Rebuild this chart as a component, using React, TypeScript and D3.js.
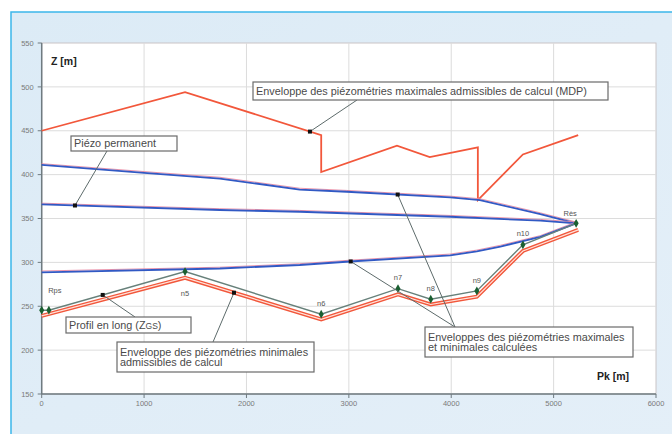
import React, { useEffect, useRef } from 'react';
import * as d3 from 'd3';

const WIDTH = 672;
const HEIGHT = 434;

// --- Data (Pk [m], Z [m]) ---
const nodeLabels = ['', 'Rps', 'n5', 'n6', 'n7', 'n8', 'n9', 'n10', 'Rès'];
const profilePk = [0, 70, 1400, 2730, 3480, 3800, 4250, 4700, 5220];
const profileZ = [245.5, 245.5, 289.5, 241, 270, 258, 267.5, 320, 344.5];

const mdpPk = [0, 1400, 2730, 2730, 3470, 3790, 4260, 4260, 4700, 5240];
const mdpZ = [450, 494, 445, 403, 433, 420, 431, 371, 423, 445];

const minAdmPk = [0, 1400, 2730, 3480, 3800, 4250, 4700, 5240];
const minAdmZ = [239, 282.5, 235, 263.5, 252, 261, 313, 337];

const maxCalcPk = [0, 1000, 1740, 2520, 2980, 3990, 4280, 4870, 5220];
const maxCalcZ = [411, 402, 395.5, 383, 380.5, 374, 371, 355, 344.5];

const permPk = [0, 1740, 2520, 3990, 4870, 5220];
const permZ = [366, 359.7, 357.7, 352, 347.5, 344.5];

const minCalcPk = [0, 1740, 2520, 3010, 3990, 4250, 4480, 4870, 5220];
const minCalcZ = [288.7, 293, 297, 301, 308, 312.5, 318, 329, 344.5];

const xTicks = [0, 1000, 2000, 3000, 4000, 5000, 6000];
const yTicks = [150, 200, 250, 300, 350, 400, 450, 500, 550];

// label offsets in px, per node
const labelOffsets: Record<string, [number, number]> = {
    Rps: [6, -20],
    n5: [0, 22],
    'Rès': [-6, -10],
};

type Pt = [number, number];
const zip = (pk: number[], z: number[]): Pt[] => pk.map((p, i) => [p, z[i]]);

// linear interpolation along a polyline (first match)
const zAt = (pts: Pt[], pk: number) => {
    for (let i = 1; i < pts.length; i++) {
        const [x0, y0] = pts[i - 1];
        const [x1, y1] = pts[i];
        if (pk >= x0 && pk <= x1 && x1 !== x0) return y0 + (y1 - y0) * (pk - x0) / (x1 - x0);
    }
    return pts[pts.length - 1][1];
};

const FONT = '"Liberation Sans", Arial, sans-serif';

const drawChart = (svgEl: SVGSVGElement) => {
    const svg = d3.select(svgEl);
    svg.selectAll('*').remove();

    const plot = { left: 41.7, right: 656, top: 43, bottom: 394 };

    const x = d3.scaleLinear().domain([0, 6000]).range([plot.left, plot.right]);
    const y = d3.scaleLinear().domain([150, 550]).range([plot.bottom, plot.top]);

    // --- Background frame ---
    const defs = svg.append('defs');
    const grad = defs.append('linearGradient')
        .attr('id', 'bg')
        .attr('x1', 0).attr('y1', 0).attr('x2', 1).attr('y2', 1);
    grad.append('stop').attr('offset', '0%').attr('stop-color', '#dcebf6');
    grad.append('stop').attr('offset', '100%').attr('stop-color', '#e4eff8');

    svg.append('rect').attr('width', WIDTH).attr('height', HEIGHT).attr('fill', '#ffffff');
    svg.append('rect')
        .attr('x', 11).attr('y', 12)
        .attr('width', WIDTH).attr('height', HEIGHT)
        .attr('fill', 'url(#bg)')
        .attr('stroke', '#3bb6ea')
        .attr('stroke-width', 1.5);

    svg.append('rect')
        .attr('x', plot.left).attr('y', plot.top)
        .attr('width', plot.right - plot.left).attr('height', plot.bottom - plot.top)
        .attr('fill', '#ffffff')
        .attr('stroke', '#c9c4c6')
        .attr('stroke-width', 1);

    // --- Grid ---
    const grid = svg.append('g').attr('stroke', '#dcdcdc').attr('stroke-width', 1);
    xTicks.slice(1, -1).forEach(t => {
        grid.append('line').attr('x1', x(t)).attr('x2', x(t)).attr('y1', plot.top).attr('y2', plot.bottom);
    });
    yTicks.slice(1, -1).forEach(t => {
        grid.append('line').attr('x1', plot.left).attr('x2', plot.right).attr('y1', y(t)).attr('y2', y(t));
    });

    // --- Axes ---
    const axisColor = '#6f7b80';
    svg.append('line')
        .attr('x1', plot.left).attr('x2', plot.left).attr('y1', plot.top).attr('y2', plot.bottom)
        .attr('stroke', axisColor).attr('stroke-width', 1.5);
    svg.append('line')
        .attr('x1', plot.left).attr('x2', plot.right).attr('y1', plot.bottom).attr('y2', plot.bottom)
        .attr('stroke', axisColor).attr('stroke-width', 1.5);

    yTicks.forEach(t => {
        svg.append('line')
            .attr('x1', plot.left - 4).attr('x2', plot.left).attr('y1', y(t)).attr('y2', y(t))
            .attr('stroke', axisColor);
        svg.append('text')
            .attr('x', plot.left - 8).attr('y', y(t)).attr('dy', '0.35em')
            .attr('text-anchor', 'end')
            .style('font-family', FONT).style('font-size', '7.5px').style('fill', '#7a7a7a')
            .text(t);
    });
    xTicks.forEach(t => {
        svg.append('line')
            .attr('x1', x(t)).attr('x2', x(t)).attr('y1', plot.bottom).attr('y2', plot.bottom + 4)
            .attr('stroke', axisColor);
        svg.append('text')
            .attr('x', x(t)).attr('y', plot.bottom + 9).attr('dy', '0.35em')
            .attr('text-anchor', 'middle')
            .style('font-family', FONT).style('font-size', '7.5px').style('fill', '#7a7a7a')
            .text(t);
    });

    svg.append('text')
        .attr('x', 51).attr('y', 65)
        .style('font-family', FONT).style('font-size', '10.5px').style('font-weight', 'bold').style('fill', '#222')
        .text('Z [m]');
    svg.append('text')
        .attr('x', 597).attr('y', 380)
        .style('font-family', FONT).style('font-size', '10.5px').style('font-weight', 'bold').style('fill', '#222')
        .text('Pk [m]');

    // --- Series ---
    const line = d3.line<Pt>().x(d => x(d[0])).y(d => y(d[1]));

    const mdp = zip(mdpPk, mdpZ);
    const minAdm = zip(minAdmPk, minAdmZ);
    const maxCalc = zip(maxCalcPk, maxCalcZ);
    const perm = zip(permPk, permZ);
    const minCalc = zip(minCalcPk, minCalcZ);
    const profile = zip(profilePk, profileZ);

    const red = '#f2573b';
    const blue = '#3159c4';

    // upper admissible envelope
    svg.append('path').attr('d', line(mdp)).attr('fill', 'none')
        .attr('stroke', red).attr('stroke-width', 1.8).attr('stroke-linejoin', 'miter');

    // lower admissible envelope (double red)
    svg.append('path').attr('d', line(minAdm)).attr('fill', 'none')
        .attr('stroke', red).attr('stroke-width', 4);
    svg.append('path').attr('d', line(minAdm)).attr('fill', 'none')
        .attr('stroke', '#ffe2da').attr('stroke-width', 1.2);

    // blue calc / permanent lines with their pink fringe
    [maxCalc, perm, minCalc].forEach(pts => {
        svg.append('path').attr('d', line(pts)).attr('fill', 'none')
            .attr('transform', 'translate(0,-1.3)')
            .attr('stroke', '#e98aa3').attr('stroke-width', 0.9);
        svg.append('path').attr('d', line(pts)).attr('fill', 'none')
            .attr('stroke', blue).attr('stroke-width', 1.8);
    });

    // long profile
    svg.append('path').attr('d', line(profile)).attr('fill', 'none')
        .attr('stroke', '#67807a').attr('stroke-width', 1.4);
    svg.selectAll('.node')
        .data(profile)
        .enter()
        .append('path')
        .attr('transform', d => `translate(${x(d[0])},${y(d[1])})`)
        .attr('d', d3.symbol().type(d3.symbolDiamond).size(22)())
        .attr('fill', '#1a5f31');

    profile.forEach((d, i) => {
        const name = nodeLabels[i];
        if (!name) return;
        const [dx, dy] = labelOffsets[name] || [0, -11];
        svg.append('text')
            .attr('x', x(d[0]) + dx).attr('y', y(d[1]) + dy).attr('dy', '0.35em')
            .attr('text-anchor', 'middle')
            .style('font-family', FONT).style('font-size', '7.5px').style('fill', '#555')
            .text(name);
    });

    // --- Annotations ---
    interface Note {
        lines: string[];
        box: [number, number, number, number];
        from: [number, number];
        targets: { pts: Pt[]; pk: number }[];
    }
    const notes: Note[] = [
        {
            lines: ['Enveloppe des piézométries maximales admissibles de calcul (MDP)'],
            box: [253, 82, 355, 18],
            from: [357, 100],
            targets: [{ pts: mdp, pk: 2620 }],
        },
        {
            lines: ['Piézo permanent'],
            box: [71, 136, 106, 15],
            from: [107, 151],
            targets: [{ pts: perm, pk: 325 }],
        },
        {
            lines: ['Profil en long (Z'],
            box: [66, 317, 125, 16],
            from: [135, 317],
            targets: [{ pts: profile, pk: 596 }],
        },
        {
            lines: ['Enveloppe des piézométries minimales', 'admissibles de calcul'],
            box: [117, 342, 197, 30],
            from: [213, 342],
            targets: [{ pts: minAdm, pk: 1878 }],
        },
        {
            lines: ['Enveloppes des piézométries maximales', 'et minimales calculées'],
            box: [425, 327, 208, 30],
            from: [455, 327],
            targets: [{ pts: maxCalc, pk: 3477 }, { pts: minCalc, pk: 3018 }],
        },
    ];

    notes.forEach(n => {
        n.targets.forEach(t => {
            const tx = x(t.pk);
            const ty = y(zAt(t.pts, t.pk));
            svg.append('line')
                .attr('x1', n.from[0]).attr('y1', n.from[1]).attr('x2', tx).attr('y2', ty)
                .attr('stroke', '#5d6b6b').attr('stroke-width', 1);
            svg.append('rect')
                .attr('x', tx - 2).attr('y', ty - 2).attr('width', 4).attr('height', 4)
                .attr('fill', '#111');
        });
        const [bx, by, bw, bh] = n.box;
        svg.append('rect')
            .attr('x', bx).attr('y', by).attr('width', bw).attr('height', bh)
            .attr('fill', '#ffffff').attr('stroke', '#6a6a6a').attr('stroke-width', 1.2);
        const lineGap = 10.5;
        const startY = by + bh / 2 - (n.lines.length - 1) * lineGap / 2;
        n.lines.forEach((l, i) => {
            const txt = svg.append('text')
                .attr('x', bx + 3).attr('y', startY + i * lineGap).attr('dy', '0.35em')
                .style('font-family', FONT).style('font-size', '10.85px').style('fill', '#4a4a4a')
                .text(l);
            if (l.endsWith('(Z')) {
                txt.append('tspan').style('font-size', '8.5px').text('GS');
                txt.append('tspan').text(')');
            }
        });
    });
};

const App: React.FC = () => {
    const svgRef = useRef<SVGSVGElement | null>(null);

    useEffect(() => {
        if (svgRef.current) drawChart(svgRef.current);
    }, []);

    return (
        <svg
            ref={svgRef}
            width={WIDTH}
            height={HEIGHT}
            viewBox={`0 0 ${WIDTH} ${HEIGHT}`}
            style={{ position: 'absolute', left: 0, top: 0, display: 'block' }}
        />
    );
};

export default App;
